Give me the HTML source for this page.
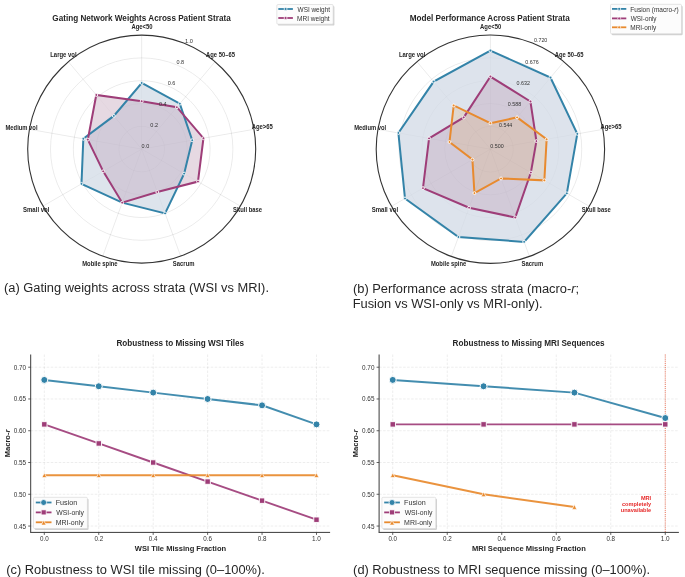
<!DOCTYPE html>
<html><head><meta charset="utf-8"><style>
html,body{margin:0;padding:0;background:#fff;width:685px;height:577px;overflow:hidden}
svg{display:block;will-change:transform}
</style></head><body>
<svg width="685" height="577" viewBox="0 0 685 577">
<rect width="685" height="577" fill="#fff"/>
<defs>
<clipPath id="rac0"><polygon points="141.70,82.98 179.80,103.69 192.22,140.19 184.15,173.61 165.09,213.37 122.20,202.66 81.48,183.87 83.32,138.81 113.85,115.91"/></clipPath>
<clipPath id="rac1"><polygon points="141.70,101.22 176.87,107.18 203.45,138.21 197.97,181.59 157.30,191.95 122.20,202.66 103.20,171.33 87.81,139.60 96.27,94.96"/></clipPath>
</defs>
<circle cx="141.7" cy="149.1" r="22.80" stroke="#000" stroke-opacity="0.09" stroke-width="0.7" fill="none"/>
<circle cx="141.7" cy="149.1" r="45.60" stroke="#000" stroke-opacity="0.09" stroke-width="0.7" fill="none"/>
<circle cx="141.7" cy="149.1" r="68.40" stroke="#000" stroke-opacity="0.09" stroke-width="0.7" fill="none"/>
<circle cx="141.7" cy="149.1" r="91.20" stroke="#000" stroke-opacity="0.09" stroke-width="0.7" fill="none"/>
<line x1="141.7" y1="149.1" x2="141.70" y2="35.10" stroke="#000" stroke-opacity="0.09" stroke-width="0.7" fill="none"/>
<line x1="141.7" y1="149.1" x2="214.98" y2="61.77" stroke="#000" stroke-opacity="0.09" stroke-width="0.7" fill="none"/>
<line x1="141.7" y1="149.1" x2="253.97" y2="129.30" stroke="#000" stroke-opacity="0.09" stroke-width="0.7" fill="none"/>
<line x1="141.7" y1="149.1" x2="240.43" y2="206.10" stroke="#000" stroke-opacity="0.09" stroke-width="0.7" fill="none"/>
<line x1="141.7" y1="149.1" x2="180.69" y2="256.22" stroke="#000" stroke-opacity="0.09" stroke-width="0.7" fill="none"/>
<line x1="141.7" y1="149.1" x2="102.71" y2="256.22" stroke="#000" stroke-opacity="0.09" stroke-width="0.7" fill="none"/>
<line x1="141.7" y1="149.1" x2="42.97" y2="206.10" stroke="#000" stroke-opacity="0.09" stroke-width="0.7" fill="none"/>
<line x1="141.7" y1="149.1" x2="29.43" y2="129.30" stroke="#000" stroke-opacity="0.09" stroke-width="0.7" fill="none"/>
<line x1="141.7" y1="149.1" x2="68.42" y2="61.77" stroke="#000" stroke-opacity="0.09" stroke-width="0.7" fill="none"/>
<polygon points="141.70,82.98 179.80,103.69 192.22,140.19 184.15,173.61 165.09,213.37 122.20,202.66 81.48,183.87 83.32,138.81 113.85,115.91" fill="#dde4ec"/>
<polygon points="141.70,101.22 176.87,107.18 203.45,138.21 197.97,181.59 157.30,191.95 122.20,202.66 103.20,171.33 87.81,139.60 96.27,94.96" fill="#e6d9e2"/>
<polygon points="141.70,101.22 176.87,107.18 203.45,138.21 197.97,181.59 157.30,191.95 122.20,202.66 103.20,171.33 87.81,139.60 96.27,94.96" fill="#d2cbd9" clip-path="url(#rac0)"/>
<circle cx="141.7" cy="149.1" r="22.80" stroke="#000" stroke-opacity="0.03" stroke-width="0.7" fill="none"/>
<circle cx="141.7" cy="149.1" r="45.60" stroke="#000" stroke-opacity="0.03" stroke-width="0.7" fill="none"/>
<circle cx="141.7" cy="149.1" r="68.40" stroke="#000" stroke-opacity="0.03" stroke-width="0.7" fill="none"/>
<circle cx="141.7" cy="149.1" r="91.20" stroke="#000" stroke-opacity="0.03" stroke-width="0.7" fill="none"/>
<line x1="141.7" y1="149.1" x2="141.70" y2="35.10" stroke="#000" stroke-opacity="0.03" stroke-width="0.7" fill="none"/>
<line x1="141.7" y1="149.1" x2="214.98" y2="61.77" stroke="#000" stroke-opacity="0.03" stroke-width="0.7" fill="none"/>
<line x1="141.7" y1="149.1" x2="253.97" y2="129.30" stroke="#000" stroke-opacity="0.03" stroke-width="0.7" fill="none"/>
<line x1="141.7" y1="149.1" x2="240.43" y2="206.10" stroke="#000" stroke-opacity="0.03" stroke-width="0.7" fill="none"/>
<line x1="141.7" y1="149.1" x2="180.69" y2="256.22" stroke="#000" stroke-opacity="0.03" stroke-width="0.7" fill="none"/>
<line x1="141.7" y1="149.1" x2="102.71" y2="256.22" stroke="#000" stroke-opacity="0.03" stroke-width="0.7" fill="none"/>
<line x1="141.7" y1="149.1" x2="42.97" y2="206.10" stroke="#000" stroke-opacity="0.03" stroke-width="0.7" fill="none"/>
<line x1="141.7" y1="149.1" x2="29.43" y2="129.30" stroke="#000" stroke-opacity="0.03" stroke-width="0.7" fill="none"/>
<line x1="141.7" y1="149.1" x2="68.42" y2="61.77" stroke="#000" stroke-opacity="0.03" stroke-width="0.7" fill="none"/>
<polygon points="141.70,82.98 179.80,103.69 192.22,140.19 184.15,173.61 165.09,213.37 122.20,202.66 81.48,183.87 83.32,138.81 113.85,115.91" fill="none" stroke="#3383A8" stroke-width="2" stroke-linejoin="miter"/>
<circle cx="141.70" cy="82.98" r="1.45" fill="#3383A8" stroke="#fff" stroke-width="0.9"/>
<circle cx="179.80" cy="103.69" r="1.45" fill="#3383A8" stroke="#fff" stroke-width="0.9"/>
<circle cx="192.22" cy="140.19" r="1.45" fill="#3383A8" stroke="#fff" stroke-width="0.9"/>
<circle cx="184.15" cy="173.61" r="1.45" fill="#3383A8" stroke="#fff" stroke-width="0.9"/>
<circle cx="165.09" cy="213.37" r="1.45" fill="#3383A8" stroke="#fff" stroke-width="0.9"/>
<circle cx="122.20" cy="202.66" r="1.45" fill="#3383A8" stroke="#fff" stroke-width="0.9"/>
<circle cx="81.48" cy="183.87" r="1.45" fill="#3383A8" stroke="#fff" stroke-width="0.9"/>
<circle cx="83.32" cy="138.81" r="1.45" fill="#3383A8" stroke="#fff" stroke-width="0.9"/>
<circle cx="113.85" cy="115.91" r="1.45" fill="#3383A8" stroke="#fff" stroke-width="0.9"/>
<polygon points="141.70,101.22 176.87,107.18 203.45,138.21 197.97,181.59 157.30,191.95 122.20,202.66 103.20,171.33 87.81,139.60 96.27,94.96" fill="none" stroke="#9E3D78" stroke-width="2" stroke-linejoin="miter"/>
<circle cx="141.70" cy="101.22" r="1.45" fill="#9E3D78" stroke="#fff" stroke-width="0.9"/>
<circle cx="176.87" cy="107.18" r="1.45" fill="#9E3D78" stroke="#fff" stroke-width="0.9"/>
<circle cx="203.45" cy="138.21" r="1.45" fill="#9E3D78" stroke="#fff" stroke-width="0.9"/>
<circle cx="197.97" cy="181.59" r="1.45" fill="#9E3D78" stroke="#fff" stroke-width="0.9"/>
<circle cx="157.30" cy="191.95" r="1.45" fill="#9E3D78" stroke="#fff" stroke-width="0.9"/>
<circle cx="122.20" cy="202.66" r="1.45" fill="#9E3D78" stroke="#fff" stroke-width="0.9"/>
<circle cx="103.20" cy="171.33" r="1.45" fill="#9E3D78" stroke="#fff" stroke-width="0.9"/>
<circle cx="87.81" cy="139.60" r="1.45" fill="#9E3D78" stroke="#fff" stroke-width="0.9"/>
<circle cx="96.27" cy="94.96" r="1.45" fill="#9E3D78" stroke="#fff" stroke-width="0.9"/>
<circle cx="141.7" cy="149.1" r="114.0" fill="none" stroke="#333" stroke-width="1.1"/>
<text x="141.58" y="147.90" font-size="5.6" font-weight="normal" fill="#333" textLength="7.64" lengthAdjust="spacingAndGlyphs" font-family="Liberation Sans, sans-serif" >0.0</text>
<text x="150.30" y="126.84" font-size="5.6" font-weight="normal" fill="#333" textLength="7.70" lengthAdjust="spacingAndGlyphs" font-family="Liberation Sans, sans-serif" >0.2</text>
<text x="159.03" y="105.77" font-size="5.6" font-weight="normal" fill="#333" textLength="7.58" lengthAdjust="spacingAndGlyphs" font-family="Liberation Sans, sans-serif" >0.4</text>
<text x="167.75" y="84.71" font-size="5.6" font-weight="normal" fill="#333" textLength="7.67" lengthAdjust="spacingAndGlyphs" font-family="Liberation Sans, sans-serif" >0.6</text>
<text x="176.48" y="63.64" font-size="5.6" font-weight="normal" fill="#333" textLength="7.64" lengthAdjust="spacingAndGlyphs" font-family="Liberation Sans, sans-serif" >0.8</text>
<text x="185.00" y="42.58" font-size="5.6" font-weight="normal" fill="#333" textLength="7.85" lengthAdjust="spacingAndGlyphs" font-family="Liberation Sans, sans-serif" >1.0</text>
<text x="131.40" y="28.60" font-size="6.5" font-weight="bold" fill="#262626" textLength="21.09" lengthAdjust="spacingAndGlyphs" font-family="Liberation Sans, sans-serif" >Age&lt;50</text>
<text x="206.10" y="57.10" font-size="6.5" font-weight="bold" fill="#262626" textLength="28.81" lengthAdjust="spacingAndGlyphs" font-family="Liberation Sans, sans-serif" >Age 50–65</text>
<text x="251.70" y="129.40" font-size="6.5" font-weight="bold" fill="#262626" textLength="21.20" lengthAdjust="spacingAndGlyphs" font-family="Liberation Sans, sans-serif" >Age&gt;65</text>
<text x="233.07" y="211.90" font-size="6.5" font-weight="bold" fill="#262626" textLength="28.89" lengthAdjust="spacingAndGlyphs" font-family="Liberation Sans, sans-serif" >Skull base</text>
<text x="172.87" y="265.70" font-size="6.5" font-weight="bold" fill="#262626" textLength="21.62" lengthAdjust="spacingAndGlyphs" font-family="Liberation Sans, sans-serif" >Sacrum</text>
<text x="82.22" y="265.60" font-size="6.5" font-weight="bold" fill="#262626" textLength="35.39" lengthAdjust="spacingAndGlyphs" font-family="Liberation Sans, sans-serif" >Mobile spine</text>
<text x="23.02" y="211.90" font-size="6.5" font-weight="bold" fill="#262626" textLength="26.41" lengthAdjust="spacingAndGlyphs" font-family="Liberation Sans, sans-serif" >Small vol</text>
<text x="5.52" y="129.60" font-size="6.5" font-weight="bold" fill="#262626" textLength="31.99" lengthAdjust="spacingAndGlyphs" font-family="Liberation Sans, sans-serif" >Medium vol</text>
<text x="50.21" y="57.10" font-size="6.5" font-weight="bold" fill="#262626" textLength="26.41" lengthAdjust="spacingAndGlyphs" font-family="Liberation Sans, sans-serif" >Large vol</text>
<text x="52.37" y="20.50" font-size="8.6" font-weight="bold" fill="#262626" textLength="178.34" lengthAdjust="spacingAndGlyphs" font-family="Liberation Sans, sans-serif" >Gating Network Weights Across Patient Strata</text>
<defs>
<clipPath id="rbc0"><polygon points="490.40,50.57 550.46,77.62 577.30,133.88 566.82,193.32 524.13,241.88 458.44,237.00 404.99,198.51 398.38,132.97 433.68,81.60"/></clipPath>
<clipPath id="rbc1"><polygon points="490.40,76.53 530.44,101.48 536.41,141.09 530.86,172.56 515.26,217.49 469.10,207.73 422.97,188.13 429.06,138.38 463.71,117.39"/></clipPath>
<clipPath id="rbc2"><polygon points="490.40,123.25 517.09,117.39 546.63,139.28 544.35,180.35 501.05,178.47 474.42,193.10 472.42,159.58 449.50,141.99 453.70,105.46"/></clipPath>
</defs>
<circle cx="490.4" cy="149.2" r="22.84" stroke="#000" stroke-opacity="0.09" stroke-width="0.7" fill="none"/>
<circle cx="490.4" cy="149.2" r="45.68" stroke="#000" stroke-opacity="0.09" stroke-width="0.7" fill="none"/>
<circle cx="490.4" cy="149.2" r="68.52" stroke="#000" stroke-opacity="0.09" stroke-width="0.7" fill="none"/>
<circle cx="490.4" cy="149.2" r="91.36" stroke="#000" stroke-opacity="0.09" stroke-width="0.7" fill="none"/>
<line x1="490.4" y1="149.2" x2="490.40" y2="35.00" stroke="#000" stroke-opacity="0.09" stroke-width="0.7" fill="none"/>
<line x1="490.4" y1="149.2" x2="563.81" y2="61.72" stroke="#000" stroke-opacity="0.09" stroke-width="0.7" fill="none"/>
<line x1="490.4" y1="149.2" x2="602.87" y2="129.37" stroke="#000" stroke-opacity="0.09" stroke-width="0.7" fill="none"/>
<line x1="490.4" y1="149.2" x2="589.30" y2="206.30" stroke="#000" stroke-opacity="0.09" stroke-width="0.7" fill="none"/>
<line x1="490.4" y1="149.2" x2="529.46" y2="256.51" stroke="#000" stroke-opacity="0.09" stroke-width="0.7" fill="none"/>
<line x1="490.4" y1="149.2" x2="451.34" y2="256.51" stroke="#000" stroke-opacity="0.09" stroke-width="0.7" fill="none"/>
<line x1="490.4" y1="149.2" x2="391.50" y2="206.30" stroke="#000" stroke-opacity="0.09" stroke-width="0.7" fill="none"/>
<line x1="490.4" y1="149.2" x2="377.93" y2="129.37" stroke="#000" stroke-opacity="0.09" stroke-width="0.7" fill="none"/>
<line x1="490.4" y1="149.2" x2="416.99" y2="61.72" stroke="#000" stroke-opacity="0.09" stroke-width="0.7" fill="none"/>
<polygon points="490.40,50.57 550.46,77.62 577.30,133.88 566.82,193.32 524.13,241.88 458.44,237.00 404.99,198.51 398.38,132.97 433.68,81.60" fill="#dde3ec"/>
<polygon points="490.40,76.53 530.44,101.48 536.41,141.09 530.86,172.56 515.26,217.49 469.10,207.73 422.97,188.13 429.06,138.38 463.71,117.39" fill="#d2cad8"/>
<polygon points="490.40,123.25 517.09,117.39 546.63,139.28 544.35,180.35 501.05,178.47 474.42,193.10 472.42,159.58 449.50,141.99 453.70,105.46" fill="#e0d7ce"/>
<polygon points="490.40,123.25 517.09,117.39 546.63,139.28 544.35,180.35 501.05,178.47 474.42,193.10 472.42,159.58 449.50,141.99 453.70,105.46" fill="#d6c4bf" clip-path="url(#rbc1)"/>
<circle cx="490.4" cy="149.2" r="22.84" stroke="#000" stroke-opacity="0.03" stroke-width="0.7" fill="none"/>
<circle cx="490.4" cy="149.2" r="45.68" stroke="#000" stroke-opacity="0.03" stroke-width="0.7" fill="none"/>
<circle cx="490.4" cy="149.2" r="68.52" stroke="#000" stroke-opacity="0.03" stroke-width="0.7" fill="none"/>
<circle cx="490.4" cy="149.2" r="91.36" stroke="#000" stroke-opacity="0.03" stroke-width="0.7" fill="none"/>
<line x1="490.4" y1="149.2" x2="490.40" y2="35.00" stroke="#000" stroke-opacity="0.03" stroke-width="0.7" fill="none"/>
<line x1="490.4" y1="149.2" x2="563.81" y2="61.72" stroke="#000" stroke-opacity="0.03" stroke-width="0.7" fill="none"/>
<line x1="490.4" y1="149.2" x2="602.87" y2="129.37" stroke="#000" stroke-opacity="0.03" stroke-width="0.7" fill="none"/>
<line x1="490.4" y1="149.2" x2="589.30" y2="206.30" stroke="#000" stroke-opacity="0.03" stroke-width="0.7" fill="none"/>
<line x1="490.4" y1="149.2" x2="529.46" y2="256.51" stroke="#000" stroke-opacity="0.03" stroke-width="0.7" fill="none"/>
<line x1="490.4" y1="149.2" x2="451.34" y2="256.51" stroke="#000" stroke-opacity="0.03" stroke-width="0.7" fill="none"/>
<line x1="490.4" y1="149.2" x2="391.50" y2="206.30" stroke="#000" stroke-opacity="0.03" stroke-width="0.7" fill="none"/>
<line x1="490.4" y1="149.2" x2="377.93" y2="129.37" stroke="#000" stroke-opacity="0.03" stroke-width="0.7" fill="none"/>
<line x1="490.4" y1="149.2" x2="416.99" y2="61.72" stroke="#000" stroke-opacity="0.03" stroke-width="0.7" fill="none"/>
<polygon points="490.40,50.57 550.46,77.62 577.30,133.88 566.82,193.32 524.13,241.88 458.44,237.00 404.99,198.51 398.38,132.97 433.68,81.60" fill="none" stroke="#3383A8" stroke-width="2" stroke-linejoin="miter"/>
<circle cx="490.40" cy="50.57" r="1.45" fill="#3383A8" stroke="#fff" stroke-width="0.9"/>
<circle cx="550.46" cy="77.62" r="1.45" fill="#3383A8" stroke="#fff" stroke-width="0.9"/>
<circle cx="577.30" cy="133.88" r="1.45" fill="#3383A8" stroke="#fff" stroke-width="0.9"/>
<circle cx="566.82" cy="193.32" r="1.45" fill="#3383A8" stroke="#fff" stroke-width="0.9"/>
<circle cx="524.13" cy="241.88" r="1.45" fill="#3383A8" stroke="#fff" stroke-width="0.9"/>
<circle cx="458.44" cy="237.00" r="1.45" fill="#3383A8" stroke="#fff" stroke-width="0.9"/>
<circle cx="404.99" cy="198.51" r="1.45" fill="#3383A8" stroke="#fff" stroke-width="0.9"/>
<circle cx="398.38" cy="132.97" r="1.45" fill="#3383A8" stroke="#fff" stroke-width="0.9"/>
<circle cx="433.68" cy="81.60" r="1.45" fill="#3383A8" stroke="#fff" stroke-width="0.9"/>
<polygon points="490.40,76.53 530.44,101.48 536.41,141.09 530.86,172.56 515.26,217.49 469.10,207.73 422.97,188.13 429.06,138.38 463.71,117.39" fill="none" stroke="#9E3D78" stroke-width="2" stroke-linejoin="miter"/>
<circle cx="490.40" cy="76.53" r="1.45" fill="#9E3D78" stroke="#fff" stroke-width="0.9"/>
<circle cx="530.44" cy="101.48" r="1.45" fill="#9E3D78" stroke="#fff" stroke-width="0.9"/>
<circle cx="536.41" cy="141.09" r="1.45" fill="#9E3D78" stroke="#fff" stroke-width="0.9"/>
<circle cx="530.86" cy="172.56" r="1.45" fill="#9E3D78" stroke="#fff" stroke-width="0.9"/>
<circle cx="515.26" cy="217.49" r="1.45" fill="#9E3D78" stroke="#fff" stroke-width="0.9"/>
<circle cx="469.10" cy="207.73" r="1.45" fill="#9E3D78" stroke="#fff" stroke-width="0.9"/>
<circle cx="422.97" cy="188.13" r="1.45" fill="#9E3D78" stroke="#fff" stroke-width="0.9"/>
<circle cx="429.06" cy="138.38" r="1.45" fill="#9E3D78" stroke="#fff" stroke-width="0.9"/>
<circle cx="463.71" cy="117.39" r="1.45" fill="#9E3D78" stroke="#fff" stroke-width="0.9"/>
<polygon points="490.40,123.25 517.09,117.39 546.63,139.28 544.35,180.35 501.05,178.47 474.42,193.10 472.42,159.58 449.50,141.99 453.70,105.46" fill="none" stroke="#E88A2E" stroke-width="2" stroke-linejoin="miter"/>
<circle cx="490.40" cy="123.25" r="1.45" fill="#E88A2E" stroke="#fff" stroke-width="0.9"/>
<circle cx="517.09" cy="117.39" r="1.45" fill="#E88A2E" stroke="#fff" stroke-width="0.9"/>
<circle cx="546.63" cy="139.28" r="1.45" fill="#E88A2E" stroke="#fff" stroke-width="0.9"/>
<circle cx="544.35" cy="180.35" r="1.45" fill="#E88A2E" stroke="#fff" stroke-width="0.9"/>
<circle cx="501.05" cy="178.47" r="1.45" fill="#E88A2E" stroke="#fff" stroke-width="0.9"/>
<circle cx="474.42" cy="193.10" r="1.45" fill="#E88A2E" stroke="#fff" stroke-width="0.9"/>
<circle cx="472.42" cy="159.58" r="1.45" fill="#E88A2E" stroke="#fff" stroke-width="0.9"/>
<circle cx="449.50" cy="141.99" r="1.45" fill="#E88A2E" stroke="#fff" stroke-width="0.9"/>
<circle cx="453.70" cy="105.46" r="1.45" fill="#E88A2E" stroke="#fff" stroke-width="0.9"/>
<circle cx="490.4" cy="149.2" r="114.2" fill="none" stroke="#333" stroke-width="1.1"/>
<text x="490.29" y="148.00" font-size="5.6" font-weight="normal" fill="#333" textLength="13.34" lengthAdjust="spacingAndGlyphs" font-family="Liberation Sans, sans-serif" >0.500</text>
<text x="499.03" y="126.90" font-size="5.6" font-weight="normal" fill="#333" textLength="13.28" lengthAdjust="spacingAndGlyphs" font-family="Liberation Sans, sans-serif" >0.544</text>
<text x="507.77" y="105.80" font-size="5.6" font-weight="normal" fill="#333" textLength="13.34" lengthAdjust="spacingAndGlyphs" font-family="Liberation Sans, sans-serif" >0.588</text>
<text x="516.51" y="84.70" font-size="5.6" font-weight="normal" fill="#333" textLength="13.40" lengthAdjust="spacingAndGlyphs" font-family="Liberation Sans, sans-serif" >0.632</text>
<text x="525.25" y="63.59" font-size="5.6" font-weight="normal" fill="#333" textLength="13.37" lengthAdjust="spacingAndGlyphs" font-family="Liberation Sans, sans-serif" >0.676</text>
<text x="533.99" y="42.49" font-size="5.6" font-weight="normal" fill="#333" textLength="13.34" lengthAdjust="spacingAndGlyphs" font-family="Liberation Sans, sans-serif" >0.720</text>
<text x="480.10" y="28.60" font-size="6.5" font-weight="bold" fill="#262626" textLength="21.09" lengthAdjust="spacingAndGlyphs" font-family="Liberation Sans, sans-serif" >Age&lt;50</text>
<text x="554.80" y="57.10" font-size="6.5" font-weight="bold" fill="#262626" textLength="28.81" lengthAdjust="spacingAndGlyphs" font-family="Liberation Sans, sans-serif" >Age 50–65</text>
<text x="600.40" y="129.40" font-size="6.5" font-weight="bold" fill="#262626" textLength="21.20" lengthAdjust="spacingAndGlyphs" font-family="Liberation Sans, sans-serif" >Age&gt;65</text>
<text x="581.77" y="211.90" font-size="6.5" font-weight="bold" fill="#262626" textLength="28.89" lengthAdjust="spacingAndGlyphs" font-family="Liberation Sans, sans-serif" >Skull base</text>
<text x="521.57" y="265.70" font-size="6.5" font-weight="bold" fill="#262626" textLength="21.62" lengthAdjust="spacingAndGlyphs" font-family="Liberation Sans, sans-serif" >Sacrum</text>
<text x="430.92" y="265.60" font-size="6.5" font-weight="bold" fill="#262626" textLength="35.39" lengthAdjust="spacingAndGlyphs" font-family="Liberation Sans, sans-serif" >Mobile spine</text>
<text x="371.72" y="211.90" font-size="6.5" font-weight="bold" fill="#262626" textLength="26.41" lengthAdjust="spacingAndGlyphs" font-family="Liberation Sans, sans-serif" >Small vol</text>
<text x="354.22" y="129.60" font-size="6.5" font-weight="bold" fill="#262626" textLength="31.99" lengthAdjust="spacingAndGlyphs" font-family="Liberation Sans, sans-serif" >Medium vol</text>
<text x="398.91" y="57.10" font-size="6.5" font-weight="bold" fill="#262626" textLength="26.41" lengthAdjust="spacingAndGlyphs" font-family="Liberation Sans, sans-serif" >Large vol</text>
<text x="409.67" y="20.50" font-size="8.6" font-weight="bold" fill="#262626" textLength="160.16" lengthAdjust="spacingAndGlyphs" font-family="Liberation Sans, sans-serif" >Model Performance Across Patient Strata</text>
<rect x="278.0" y="5.9" width="56.4" height="19.7" rx="1.2" fill="#000" fill-opacity="0.18"/>
<rect x="276.8" y="4.5" width="56.4" height="19.7" rx="1.2" fill="#fcfcfc" stroke="#d5d5d5" stroke-width="0.6"/>
<line x1="278.3" y1="9.0" x2="292.9" y2="9.0" stroke="#3383A8" stroke-width="1.8"/>
<circle cx="285.6" cy="9.0" r="1.5" fill="#3383A8" stroke="#fff" stroke-width="0.7"/>
<text x="297.57" y="11.60" font-size="7.1" font-weight="normal" fill="#333" textLength="32.48" lengthAdjust="spacingAndGlyphs" font-family="Liberation Sans, sans-serif" >WSI weight</text>
<line x1="278.3" y1="18.0" x2="292.9" y2="18.0" stroke="#9E3D78" stroke-width="1.8"/>
<circle cx="285.6" cy="18.0" r="1.5" fill="#9E3D78" stroke="#fff" stroke-width="0.7"/>
<text x="297.08" y="20.60" font-size="7.1" font-weight="normal" fill="#333" textLength="32.56" lengthAdjust="spacingAndGlyphs" font-family="Liberation Sans, sans-serif" >MRI weight</text>
<rect x="611.7" y="5.699999999999999" width="71" height="29.5" rx="1.2" fill="#000" fill-opacity="0.18"/>
<rect x="610.5" y="4.3" width="71" height="29.5" rx="1.2" fill="#fcfcfc" stroke="#d5d5d5" stroke-width="0.6"/>
<line x1="612" y1="8.9" x2="626.3" y2="8.9" stroke="#3383A8" stroke-width="1.8"/>
<circle cx="619.15" cy="8.9" r="1.5" fill="#3383A8" stroke="#fff" stroke-width="0.7"/>
<text x="630.28" y="11.50" font-size="7.1" font-weight="normal" fill="#333" textLength="48.35" lengthAdjust="spacingAndGlyphs" font-family="Liberation Sans, sans-serif" >Fusion (macro-<tspan font-style="italic">r</tspan>)</text>
<line x1="612" y1="18.4" x2="626.3" y2="18.4" stroke="#9E3D78" stroke-width="1.8"/>
<circle cx="619.15" cy="18.4" r="1.5" fill="#9E3D78" stroke="#fff" stroke-width="0.7"/>
<text x="630.77" y="21.00" font-size="7.1" font-weight="normal" fill="#333" textLength="25.77" lengthAdjust="spacingAndGlyphs" font-family="Liberation Sans, sans-serif" >WSI-only</text>
<line x1="612" y1="27.3" x2="626.3" y2="27.3" stroke="#E88A2E" stroke-width="1.8"/>
<circle cx="619.15" cy="27.3" r="1.5" fill="#E88A2E" stroke="#fff" stroke-width="0.7"/>
<text x="630.28" y="29.90" font-size="7.1" font-weight="normal" fill="#333" textLength="25.85" lengthAdjust="spacingAndGlyphs" font-family="Liberation Sans, sans-serif" >MRI-only</text>
<text x="4.03" y="292.40" font-size="12.0" font-weight="normal" fill="#262626" textLength="264.94" lengthAdjust="spacingAndGlyphs" font-family="Liberation Sans, sans-serif" >(a) Gating weights across strata (WSI vs MRI).</text>
<text x="352.93" y="292.90" font-size="12.0" font-weight="normal" fill="#262626" textLength="226.23" lengthAdjust="spacingAndGlyphs" font-family="Liberation Sans, sans-serif" >(b) Performance across strata (macro-<tspan font-style="italic">r</tspan>;</text>
<text x="352.67" y="307.90" font-size="12.0" font-weight="normal" fill="#262626" textLength="189.89" lengthAdjust="spacingAndGlyphs" font-family="Liberation Sans, sans-serif" >Fusion vs WSI-only vs MRI-only).</text>
<text x="6.23" y="573.80" font-size="12.0" font-weight="normal" fill="#262626" textLength="258.67" lengthAdjust="spacingAndGlyphs" font-family="Liberation Sans, sans-serif" >(c) Robustness to WSI tile missing (0–100%).</text>
<text x="353.13" y="573.80" font-size="12.0" font-weight="normal" fill="#262626" textLength="297.06" lengthAdjust="spacingAndGlyphs" font-family="Liberation Sans, sans-serif" >(d) Robustness to MRI sequence missing (0–100%).</text>
<line x1="44.31" y1="354.5" x2="44.31" y2="532.4" stroke="#000" stroke-opacity="0.12" stroke-width="0.6" stroke-dasharray="2.6,1.4"/>
<line x1="98.75" y1="354.5" x2="98.75" y2="532.4" stroke="#000" stroke-opacity="0.12" stroke-width="0.6" stroke-dasharray="2.6,1.4"/>
<line x1="153.18" y1="354.5" x2="153.18" y2="532.4" stroke="#000" stroke-opacity="0.12" stroke-width="0.6" stroke-dasharray="2.6,1.4"/>
<line x1="207.62" y1="354.5" x2="207.62" y2="532.4" stroke="#000" stroke-opacity="0.12" stroke-width="0.6" stroke-dasharray="2.6,1.4"/>
<line x1="262.05" y1="354.5" x2="262.05" y2="532.4" stroke="#000" stroke-opacity="0.12" stroke-width="0.6" stroke-dasharray="2.6,1.4"/>
<line x1="316.49" y1="354.5" x2="316.49" y2="532.4" stroke="#000" stroke-opacity="0.12" stroke-width="0.6" stroke-dasharray="2.6,1.4"/>
<line x1="30.7" y1="526.05" x2="330.1" y2="526.05" stroke="#000" stroke-opacity="0.12" stroke-width="0.6" stroke-dasharray="2.6,1.4"/>
<line x1="30.7" y1="494.28" x2="330.1" y2="494.28" stroke="#000" stroke-opacity="0.12" stroke-width="0.6" stroke-dasharray="2.6,1.4"/>
<line x1="30.7" y1="462.51" x2="330.1" y2="462.51" stroke="#000" stroke-opacity="0.12" stroke-width="0.6" stroke-dasharray="2.6,1.4"/>
<line x1="30.7" y1="430.74" x2="330.1" y2="430.74" stroke="#000" stroke-opacity="0.12" stroke-width="0.6" stroke-dasharray="2.6,1.4"/>
<line x1="30.7" y1="398.98" x2="330.1" y2="398.98" stroke="#000" stroke-opacity="0.12" stroke-width="0.6" stroke-dasharray="2.6,1.4"/>
<line x1="30.7" y1="367.21" x2="330.1" y2="367.21" stroke="#000" stroke-opacity="0.12" stroke-width="0.6" stroke-dasharray="2.6,1.4"/>
<polyline points="44.31,379.91 98.75,386.27 153.18,392.62 207.62,398.98 262.05,405.33 316.49,424.39" fill="none" stroke="#3383A8" stroke-opacity="0.92" stroke-width="2.0"/>
<circle cx="44.31" cy="379.91" r="3.5" fill="#3383A8" stroke="#fff" stroke-width="1.0"/>
<circle cx="98.75" cy="386.27" r="3.5" fill="#3383A8" stroke="#fff" stroke-width="1.0"/>
<circle cx="153.18" cy="392.62" r="3.5" fill="#3383A8" stroke="#fff" stroke-width="1.0"/>
<circle cx="207.62" cy="398.98" r="3.5" fill="#3383A8" stroke="#fff" stroke-width="1.0"/>
<circle cx="262.05" cy="405.33" r="3.5" fill="#3383A8" stroke="#fff" stroke-width="1.0"/>
<circle cx="316.49" cy="424.39" r="3.5" fill="#3383A8" stroke="#fff" stroke-width="1.0"/>
<polyline points="44.31,424.39 98.75,443.45 153.18,462.51 207.62,481.57 262.05,500.63 316.49,519.69" fill="none" stroke="#9E3D78" stroke-opacity="0.92" stroke-width="1.9"/>
<rect x="41.61" y="421.69" width="5.4" height="5.4" fill="#9E3D78" stroke="#fff" stroke-width="0.9"/>
<rect x="96.05" y="440.75" width="5.4" height="5.4" fill="#9E3D78" stroke="#fff" stroke-width="0.9"/>
<rect x="150.48" y="459.81" width="5.4" height="5.4" fill="#9E3D78" stroke="#fff" stroke-width="0.9"/>
<rect x="204.92" y="478.87" width="5.4" height="5.4" fill="#9E3D78" stroke="#fff" stroke-width="0.9"/>
<rect x="259.35" y="497.93" width="5.4" height="5.4" fill="#9E3D78" stroke="#fff" stroke-width="0.9"/>
<rect x="313.79" y="516.99" width="5.4" height="5.4" fill="#9E3D78" stroke="#fff" stroke-width="0.9"/>
<polyline points="44.31,475.22 98.75,475.22 153.18,475.22 207.62,475.22 262.05,475.22 316.49,475.22" fill="none" stroke="#E88A2E" stroke-opacity="0.92" stroke-width="1.9"/>
<polygon points="44.31,472.82 46.71,477.62 41.91,477.62" fill="#E88A2E" stroke="#fff" stroke-width="0.7"/>
<polygon points="98.75,472.82 101.15,477.62 96.35,477.62" fill="#E88A2E" stroke="#fff" stroke-width="0.7"/>
<polygon points="153.18,472.82 155.58,477.62 150.78,477.62" fill="#E88A2E" stroke="#fff" stroke-width="0.7"/>
<polygon points="207.62,472.82 210.02,477.62 205.22,477.62" fill="#E88A2E" stroke="#fff" stroke-width="0.7"/>
<polygon points="262.05,472.82 264.45,477.62 259.65,477.62" fill="#E88A2E" stroke="#fff" stroke-width="0.7"/>
<polygon points="316.49,472.82 318.89,477.62 314.09,477.62" fill="#E88A2E" stroke="#fff" stroke-width="0.7"/>
<line x1="30.7" y1="354.5" x2="30.7" y2="532.4" stroke="#3a3a3a" stroke-width="1"/>
<line x1="30.2" y1="532.4" x2="330.1" y2="532.4" stroke="#3a3a3a" stroke-width="1"/>
<line x1="28.2" y1="526.05" x2="30.7" y2="526.05" stroke="#3a3a3a" stroke-width="0.8"/>
<text x="13.64" y="528.50" font-size="6.6" font-weight="normal" fill="#333" textLength="12.42" lengthAdjust="spacingAndGlyphs" font-family="Liberation Sans, sans-serif" >0.45</text>
<line x1="28.2" y1="494.28" x2="30.7" y2="494.28" stroke="#3a3a3a" stroke-width="0.8"/>
<text x="13.64" y="496.73" font-size="6.6" font-weight="normal" fill="#333" textLength="12.42" lengthAdjust="spacingAndGlyphs" font-family="Liberation Sans, sans-serif" >0.50</text>
<line x1="28.2" y1="462.51" x2="30.7" y2="462.51" stroke="#3a3a3a" stroke-width="0.8"/>
<text x="13.64" y="464.96" font-size="6.6" font-weight="normal" fill="#333" textLength="12.42" lengthAdjust="spacingAndGlyphs" font-family="Liberation Sans, sans-serif" >0.55</text>
<line x1="28.2" y1="430.74" x2="30.7" y2="430.74" stroke="#3a3a3a" stroke-width="0.8"/>
<text x="13.64" y="433.19" font-size="6.6" font-weight="normal" fill="#333" textLength="12.42" lengthAdjust="spacingAndGlyphs" font-family="Liberation Sans, sans-serif" >0.60</text>
<line x1="28.2" y1="398.98" x2="30.7" y2="398.98" stroke="#3a3a3a" stroke-width="0.8"/>
<text x="13.64" y="401.43" font-size="6.6" font-weight="normal" fill="#333" textLength="12.42" lengthAdjust="spacingAndGlyphs" font-family="Liberation Sans, sans-serif" >0.65</text>
<line x1="28.2" y1="367.21" x2="30.7" y2="367.21" stroke="#3a3a3a" stroke-width="0.8"/>
<text x="13.64" y="369.66" font-size="6.6" font-weight="normal" fill="#333" textLength="12.42" lengthAdjust="spacingAndGlyphs" font-family="Liberation Sans, sans-serif" >0.70</text>
<line x1="44.31" y1="532.4" x2="44.31" y2="534.9" stroke="#3a3a3a" stroke-width="0.8"/>
<text x="39.96" y="541.20" font-size="6.6" font-weight="normal" fill="#333" textLength="8.70" lengthAdjust="spacingAndGlyphs" font-family="Liberation Sans, sans-serif" >0.0</text>
<line x1="98.75" y1="532.4" x2="98.75" y2="534.9" stroke="#3a3a3a" stroke-width="0.8"/>
<text x="94.39" y="541.20" font-size="6.6" font-weight="normal" fill="#333" textLength="8.77" lengthAdjust="spacingAndGlyphs" font-family="Liberation Sans, sans-serif" >0.2</text>
<line x1="153.18" y1="532.4" x2="153.18" y2="534.9" stroke="#3a3a3a" stroke-width="0.8"/>
<text x="148.83" y="541.20" font-size="6.6" font-weight="normal" fill="#333" textLength="8.64" lengthAdjust="spacingAndGlyphs" font-family="Liberation Sans, sans-serif" >0.4</text>
<line x1="207.62" y1="532.4" x2="207.62" y2="534.9" stroke="#3a3a3a" stroke-width="0.8"/>
<text x="203.27" y="541.20" font-size="6.6" font-weight="normal" fill="#333" textLength="8.74" lengthAdjust="spacingAndGlyphs" font-family="Liberation Sans, sans-serif" >0.6</text>
<line x1="262.05" y1="532.4" x2="262.05" y2="534.9" stroke="#3a3a3a" stroke-width="0.8"/>
<text x="257.70" y="541.20" font-size="6.6" font-weight="normal" fill="#333" textLength="8.70" lengthAdjust="spacingAndGlyphs" font-family="Liberation Sans, sans-serif" >0.8</text>
<line x1="316.49" y1="532.4" x2="316.49" y2="534.9" stroke="#3a3a3a" stroke-width="0.8"/>
<text x="311.91" y="541.20" font-size="6.6" font-weight="normal" fill="#333" textLength="8.94" lengthAdjust="spacingAndGlyphs" font-family="Liberation Sans, sans-serif" >1.0</text>
<text x="116.47" y="345.80" font-size="8.6" font-weight="bold" fill="#262626" textLength="127.66" lengthAdjust="spacingAndGlyphs" font-family="Liberation Sans, sans-serif" >Robustness to Missing WSI Tiles</text>
<text x="134.80" y="550.70" font-size="7.3" font-weight="bold" fill="#262626" textLength="91.35" lengthAdjust="spacingAndGlyphs" font-family="Liberation Sans, sans-serif" >WSI Tile Missing Fraction</text>
<text x="-457.39" y="10.00" font-size="7.5" font-weight="bold" fill="#262626" textLength="27.89" lengthAdjust="spacingAndGlyphs" font-family="Liberation Sans, sans-serif" transform="rotate(-90)">Macro-<tspan font-style="italic">r</tspan></text>
<rect x="34.7" y="498.7" width="53.9" height="31.3" rx="1.2" fill="#000" fill-opacity="0.18"/>
<rect x="33.5" y="497.3" width="53.9" height="31.3" rx="1.2" fill="#fcfcfc" stroke="#d5d5d5" stroke-width="0.6"/>
<line x1="35.8" y1="502.5" x2="51.5" y2="502.5" stroke="#3383A8" stroke-width="1.8"/>
<circle cx="43.65" cy="502.5" r="3.0" fill="#3383A8" stroke="#fff" stroke-width="0.8"/>
<text x="55.73" y="504.80" font-size="6.5" font-weight="normal" fill="#333" textLength="21.55" lengthAdjust="spacingAndGlyphs" font-family="Liberation Sans, sans-serif" >Fusion</text>
<line x1="35.8" y1="512.4" x2="51.5" y2="512.4" stroke="#9E3D78" stroke-width="1.8"/>
<rect x="41.15" y="509.9" width="5.0" height="5.0" fill="#9E3D78" stroke="#fff" stroke-width="0.7"/>
<text x="56.27" y="514.70" font-size="6.5" font-weight="normal" fill="#333" textLength="27.68" lengthAdjust="spacingAndGlyphs" font-family="Liberation Sans, sans-serif" >WSI-only</text>
<line x1="35.8" y1="522.3" x2="51.5" y2="522.3" stroke="#E88A2E" stroke-width="1.8"/>
<polygon points="43.65,520.1999999999999 46.15,525.0999999999999 41.15,525.0999999999999" fill="#E88A2E" stroke="#fff" stroke-width="0.7"/>
<text x="55.74" y="524.60" font-size="6.5" font-weight="normal" fill="#333" textLength="27.90" lengthAdjust="spacingAndGlyphs" font-family="Liberation Sans, sans-serif" >MRI-only</text>
<line x1="392.73" y1="354.5" x2="392.73" y2="532.4" stroke="#000" stroke-opacity="0.12" stroke-width="0.6" stroke-dasharray="2.6,1.4"/>
<line x1="447.24" y1="354.5" x2="447.24" y2="532.4" stroke="#000" stroke-opacity="0.12" stroke-width="0.6" stroke-dasharray="2.6,1.4"/>
<line x1="501.75" y1="354.5" x2="501.75" y2="532.4" stroke="#000" stroke-opacity="0.12" stroke-width="0.6" stroke-dasharray="2.6,1.4"/>
<line x1="556.25" y1="354.5" x2="556.25" y2="532.4" stroke="#000" stroke-opacity="0.12" stroke-width="0.6" stroke-dasharray="2.6,1.4"/>
<line x1="610.76" y1="354.5" x2="610.76" y2="532.4" stroke="#000" stroke-opacity="0.12" stroke-width="0.6" stroke-dasharray="2.6,1.4"/>
<line x1="665.27" y1="354.5" x2="665.27" y2="532.4" stroke="#000" stroke-opacity="0.12" stroke-width="0.6" stroke-dasharray="2.6,1.4"/>
<line x1="379.1" y1="526.05" x2="678.9" y2="526.05" stroke="#000" stroke-opacity="0.12" stroke-width="0.6" stroke-dasharray="2.6,1.4"/>
<line x1="379.1" y1="494.28" x2="678.9" y2="494.28" stroke="#000" stroke-opacity="0.12" stroke-width="0.6" stroke-dasharray="2.6,1.4"/>
<line x1="379.1" y1="462.51" x2="678.9" y2="462.51" stroke="#000" stroke-opacity="0.12" stroke-width="0.6" stroke-dasharray="2.6,1.4"/>
<line x1="379.1" y1="430.74" x2="678.9" y2="430.74" stroke="#000" stroke-opacity="0.12" stroke-width="0.6" stroke-dasharray="2.6,1.4"/>
<line x1="379.1" y1="398.98" x2="678.9" y2="398.98" stroke="#000" stroke-opacity="0.12" stroke-width="0.6" stroke-dasharray="2.6,1.4"/>
<line x1="379.1" y1="367.21" x2="678.9" y2="367.21" stroke="#000" stroke-opacity="0.12" stroke-width="0.6" stroke-dasharray="2.6,1.4"/>
<line x1="665.27" y1="354.5" x2="665.27" y2="532.4" stroke="#ec5a3c" stroke-opacity="0.85" stroke-width="1.0" stroke-dasharray="1.0,1.1"/>
<polyline points="392.73,379.91 483.58,386.27 574.42,392.62 665.27,418.04" fill="none" stroke="#3383A8" stroke-opacity="0.92" stroke-width="2.0"/>
<circle cx="392.73" cy="379.91" r="3.5" fill="#3383A8" stroke="#fff" stroke-width="1.0"/>
<circle cx="483.58" cy="386.27" r="3.5" fill="#3383A8" stroke="#fff" stroke-width="1.0"/>
<circle cx="574.42" cy="392.62" r="3.5" fill="#3383A8" stroke="#fff" stroke-width="1.0"/>
<circle cx="665.27" cy="418.04" r="3.5" fill="#3383A8" stroke="#fff" stroke-width="1.0"/>
<polyline points="392.73,424.39 483.58,424.39 574.42,424.39 665.27,424.39" fill="none" stroke="#9E3D78" stroke-opacity="0.92" stroke-width="1.9"/>
<rect x="390.03" y="421.69" width="5.4" height="5.4" fill="#9E3D78" stroke="#fff" stroke-width="0.9"/>
<rect x="480.88" y="421.69" width="5.4" height="5.4" fill="#9E3D78" stroke="#fff" stroke-width="0.9"/>
<rect x="571.72" y="421.69" width="5.4" height="5.4" fill="#9E3D78" stroke="#fff" stroke-width="0.9"/>
<rect x="662.57" y="421.69" width="5.4" height="5.4" fill="#9E3D78" stroke="#fff" stroke-width="0.9"/>
<polyline points="392.73,475.22 483.58,494.28 574.42,506.99" fill="none" stroke="#E88A2E" stroke-opacity="0.92" stroke-width="1.9"/>
<polygon points="392.73,472.82 395.13,477.62 390.33,477.62" fill="#E88A2E" stroke="#fff" stroke-width="0.7"/>
<polygon points="483.58,491.88 485.98,496.68 481.18,496.68" fill="#E88A2E" stroke="#fff" stroke-width="0.7"/>
<polygon points="574.42,504.59 576.82,509.39 572.02,509.39" fill="#E88A2E" stroke="#fff" stroke-width="0.7"/>
<line x1="379.1" y1="354.5" x2="379.1" y2="532.4" stroke="#3a3a3a" stroke-width="1"/>
<line x1="378.6" y1="532.4" x2="678.9" y2="532.4" stroke="#3a3a3a" stroke-width="1"/>
<line x1="376.6" y1="526.05" x2="379.1" y2="526.05" stroke="#3a3a3a" stroke-width="0.8"/>
<text x="362.04" y="528.50" font-size="6.6" font-weight="normal" fill="#333" textLength="12.42" lengthAdjust="spacingAndGlyphs" font-family="Liberation Sans, sans-serif" >0.45</text>
<line x1="376.6" y1="494.28" x2="379.1" y2="494.28" stroke="#3a3a3a" stroke-width="0.8"/>
<text x="362.04" y="496.73" font-size="6.6" font-weight="normal" fill="#333" textLength="12.42" lengthAdjust="spacingAndGlyphs" font-family="Liberation Sans, sans-serif" >0.50</text>
<line x1="376.6" y1="462.51" x2="379.1" y2="462.51" stroke="#3a3a3a" stroke-width="0.8"/>
<text x="362.04" y="464.96" font-size="6.6" font-weight="normal" fill="#333" textLength="12.42" lengthAdjust="spacingAndGlyphs" font-family="Liberation Sans, sans-serif" >0.55</text>
<line x1="376.6" y1="430.74" x2="379.1" y2="430.74" stroke="#3a3a3a" stroke-width="0.8"/>
<text x="362.04" y="433.19" font-size="6.6" font-weight="normal" fill="#333" textLength="12.42" lengthAdjust="spacingAndGlyphs" font-family="Liberation Sans, sans-serif" >0.60</text>
<line x1="376.6" y1="398.98" x2="379.1" y2="398.98" stroke="#3a3a3a" stroke-width="0.8"/>
<text x="362.04" y="401.43" font-size="6.6" font-weight="normal" fill="#333" textLength="12.42" lengthAdjust="spacingAndGlyphs" font-family="Liberation Sans, sans-serif" >0.65</text>
<line x1="376.6" y1="367.21" x2="379.1" y2="367.21" stroke="#3a3a3a" stroke-width="0.8"/>
<text x="362.04" y="369.66" font-size="6.6" font-weight="normal" fill="#333" textLength="12.42" lengthAdjust="spacingAndGlyphs" font-family="Liberation Sans, sans-serif" >0.70</text>
<line x1="392.73" y1="532.4" x2="392.73" y2="534.9" stroke="#3a3a3a" stroke-width="0.8"/>
<text x="388.38" y="541.20" font-size="6.6" font-weight="normal" fill="#333" textLength="8.70" lengthAdjust="spacingAndGlyphs" font-family="Liberation Sans, sans-serif" >0.0</text>
<line x1="447.24" y1="532.4" x2="447.24" y2="534.9" stroke="#3a3a3a" stroke-width="0.8"/>
<text x="442.88" y="541.20" font-size="6.6" font-weight="normal" fill="#333" textLength="8.77" lengthAdjust="spacingAndGlyphs" font-family="Liberation Sans, sans-serif" >0.2</text>
<line x1="501.75" y1="532.4" x2="501.75" y2="534.9" stroke="#3a3a3a" stroke-width="0.8"/>
<text x="497.40" y="541.20" font-size="6.6" font-weight="normal" fill="#333" textLength="8.64" lengthAdjust="spacingAndGlyphs" font-family="Liberation Sans, sans-serif" >0.4</text>
<line x1="556.25" y1="532.4" x2="556.25" y2="534.9" stroke="#3a3a3a" stroke-width="0.8"/>
<text x="551.90" y="541.20" font-size="6.6" font-weight="normal" fill="#333" textLength="8.74" lengthAdjust="spacingAndGlyphs" font-family="Liberation Sans, sans-serif" >0.6</text>
<line x1="610.76" y1="532.4" x2="610.76" y2="534.9" stroke="#3a3a3a" stroke-width="0.8"/>
<text x="606.41" y="541.20" font-size="6.6" font-weight="normal" fill="#333" textLength="8.70" lengthAdjust="spacingAndGlyphs" font-family="Liberation Sans, sans-serif" >0.8</text>
<line x1="665.27" y1="532.4" x2="665.27" y2="534.9" stroke="#3a3a3a" stroke-width="0.8"/>
<text x="660.69" y="541.20" font-size="6.6" font-weight="normal" fill="#333" textLength="8.94" lengthAdjust="spacingAndGlyphs" font-family="Liberation Sans, sans-serif" >1.0</text>
<text x="452.57" y="345.80" font-size="8.6" font-weight="bold" fill="#262626" textLength="151.96" lengthAdjust="spacingAndGlyphs" font-family="Liberation Sans, sans-serif" >Robustness to Missing MRI Sequences</text>
<text x="471.91" y="550.70" font-size="7.3" font-weight="bold" fill="#262626" textLength="113.93" lengthAdjust="spacingAndGlyphs" font-family="Liberation Sans, sans-serif" >MRI Sequence Missing Fraction</text>
<text x="-457.39" y="358.40" font-size="7.5" font-weight="bold" fill="#262626" textLength="27.89" lengthAdjust="spacingAndGlyphs" font-family="Liberation Sans, sans-serif" transform="rotate(-90)">Macro-<tspan font-style="italic">r</tspan></text>
<rect x="383.1" y="498.7" width="53.9" height="31.3" rx="1.2" fill="#000" fill-opacity="0.18"/>
<rect x="381.90000000000003" y="497.3" width="53.9" height="31.3" rx="1.2" fill="#fcfcfc" stroke="#d5d5d5" stroke-width="0.6"/>
<line x1="384.20000000000005" y1="502.5" x2="399.90000000000003" y2="502.5" stroke="#3383A8" stroke-width="1.8"/>
<circle cx="392.05000000000007" cy="502.5" r="3.0" fill="#3383A8" stroke="#fff" stroke-width="0.8"/>
<text x="404.13" y="504.80" font-size="6.5" font-weight="normal" fill="#333" textLength="21.55" lengthAdjust="spacingAndGlyphs" font-family="Liberation Sans, sans-serif" >Fusion</text>
<line x1="384.20000000000005" y1="512.4" x2="399.90000000000003" y2="512.4" stroke="#9E3D78" stroke-width="1.8"/>
<rect x="389.55000000000007" y="509.9" width="5.0" height="5.0" fill="#9E3D78" stroke="#fff" stroke-width="0.7"/>
<text x="404.67" y="514.70" font-size="6.5" font-weight="normal" fill="#333" textLength="27.68" lengthAdjust="spacingAndGlyphs" font-family="Liberation Sans, sans-serif" >WSI-only</text>
<line x1="384.20000000000005" y1="522.3" x2="399.90000000000003" y2="522.3" stroke="#E88A2E" stroke-width="1.8"/>
<polygon points="392.05000000000007,520.1999999999999 394.55000000000007,525.0999999999999 389.55000000000007,525.0999999999999" fill="#E88A2E" stroke="#fff" stroke-width="0.7"/>
<text x="404.14" y="524.60" font-size="6.5" font-weight="normal" fill="#333" textLength="27.90" lengthAdjust="spacingAndGlyphs" font-family="Liberation Sans, sans-serif" >MRI-only</text>
<text x="651.2" y="499.9" font-size="5.6" font-weight="bold" fill="#e62a2a" text-anchor="end" font-family="Liberation Sans, sans-serif">MRI</text>
<text x="651.2" y="506.0" font-size="5.6" font-weight="bold" fill="#e62a2a" text-anchor="end" font-family="Liberation Sans, sans-serif">completely</text>
<text x="651.2" y="511.6" font-size="5.6" font-weight="bold" fill="#e62a2a" text-anchor="end" font-family="Liberation Sans, sans-serif">unavailable</text>
</svg>
</body></html>
